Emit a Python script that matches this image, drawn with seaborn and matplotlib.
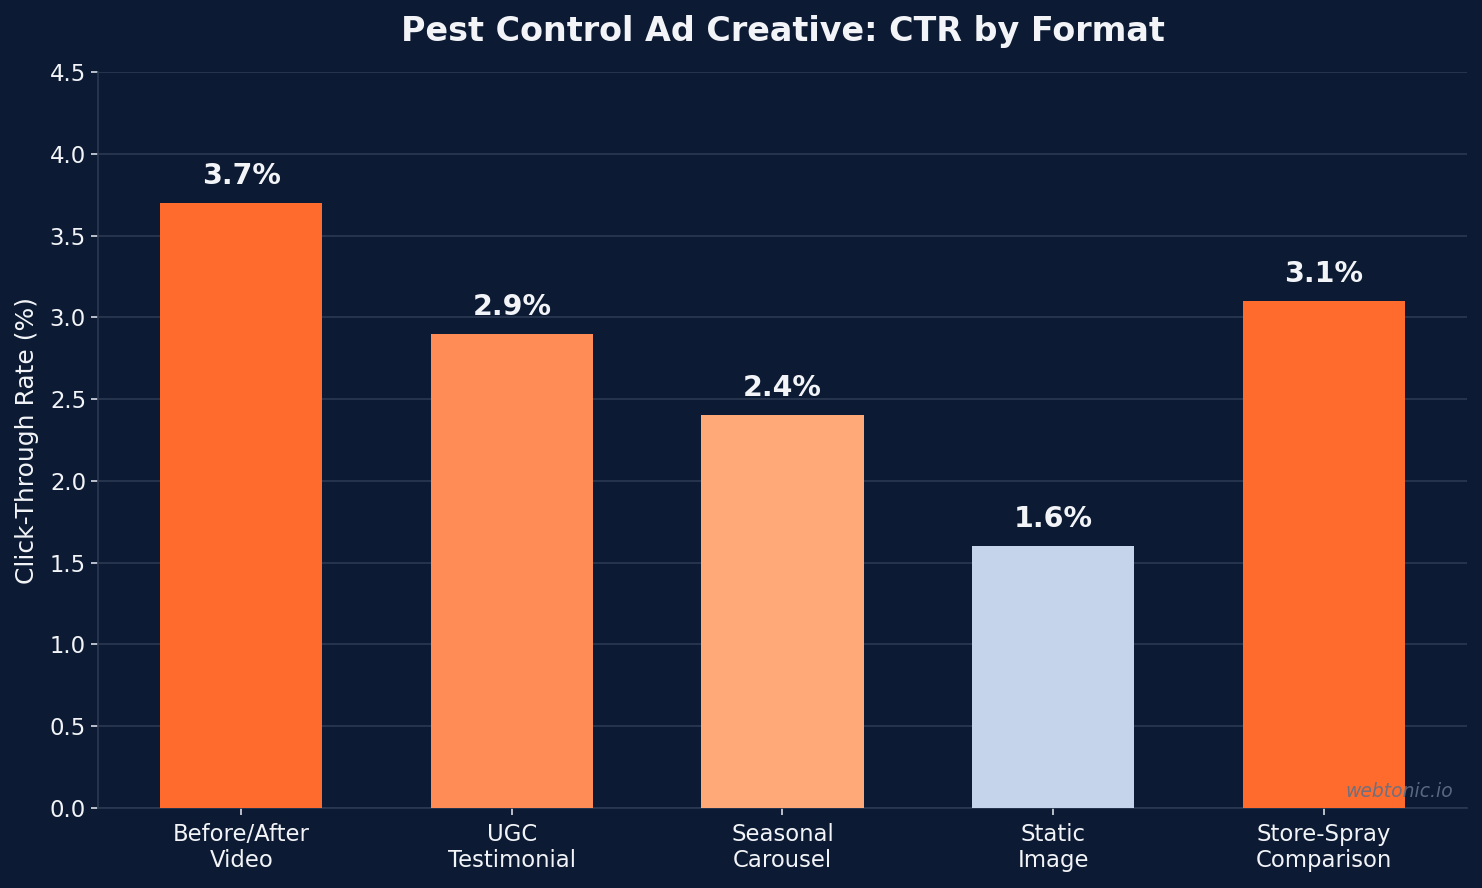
import matplotlib
matplotlib.use("Agg")
import matplotlib.pyplot as plt
import seaborn as sns
import pandas as pd

categories = ["Before/After\nVideo", "UGC\nTestimonial", "Seasonal\nCarousel", "Static\nImage", "Store-Spray\nComparison"]
ctr = [3.7, 2.9, 2.4, 1.6, 3.1]
bar_colors = ["#ff6b2c", "#ff8c57", "#ffa878", "#c5d4ea", "#ff6b2c"]

BG = "#0c1b33"
GRID = "#2b3a52"
TXT = "#f2f4f8"

sns.set_theme(style="dark")
plt.rcParams['font.family'] = ['DejaVu Sans']

df = pd.DataFrame({"Format": categories, "CTR": ctr})

fig, ax = plt.subplots(figsize=(14.82, 8.88), dpi=100)
fig.patch.set_facecolor(BG)
ax.set_facecolor(BG)

sns.barplot(data=df, x="Format", y="CTR", hue="Format", palette=bar_colors,
            legend=False, width=0.6, ax=ax, saturation=1, zorder=3,
            edgecolor="none", linewidth=0)

ax.set_xlim(-0.53, 4.53)
ax.set_ylim(0, 4.5)
ax.set_yticks([0, 0.5, 1.0, 1.5, 2.0, 2.5, 3.0, 3.5, 4.0, 4.5])
ax.yaxis.grid(True, color=GRID, linewidth=1.2, zorder=0)
ax.xaxis.grid(False)
ax.set_axisbelow(True)

for s in ["top", "right"]:
    ax.spines[s].set_visible(False)
for s in ["left", "bottom"]:
    ax.spines[s].set_visible(True)
    ax.spines[s].set_color(GRID)
    ax.spines[s].set_linewidth(1.2)

ax.tick_params(axis="both", colors="#d8dde6", labelcolor=TXT, labelsize=16.4,
               length=5, width=1.2, left=True, bottom=True)
ax.tick_params(axis="x", pad=5.5)

for i, v in enumerate(ctr):
    ax.text(i, v + 0.08, f"{v}%", ha="center", va="bottom", fontsize=20.5,
            fontweight="bold", color=TXT)

ax.set_xlabel("")
ax.set_ylabel("Click-Through Rate (%)", fontsize=18, color=TXT, labelpad=8)
ax.set_title("Pest Control Ad Creative: CTR by Format", fontsize=24,
             fontweight="bold", color=TXT, pad=22)

ax.text(0.99, 0.01, "webtonic.io", transform=ax.transAxes, ha="right", va="bottom",
        fontsize=13.5, style="italic", color="#5f7088", alpha=0.9, zorder=5)

fig.subplots_adjust(left=0.066, right=0.99, top=0.919, bottom=0.09)
fig.savefig("out.png", dpi=100, facecolor=BG)
